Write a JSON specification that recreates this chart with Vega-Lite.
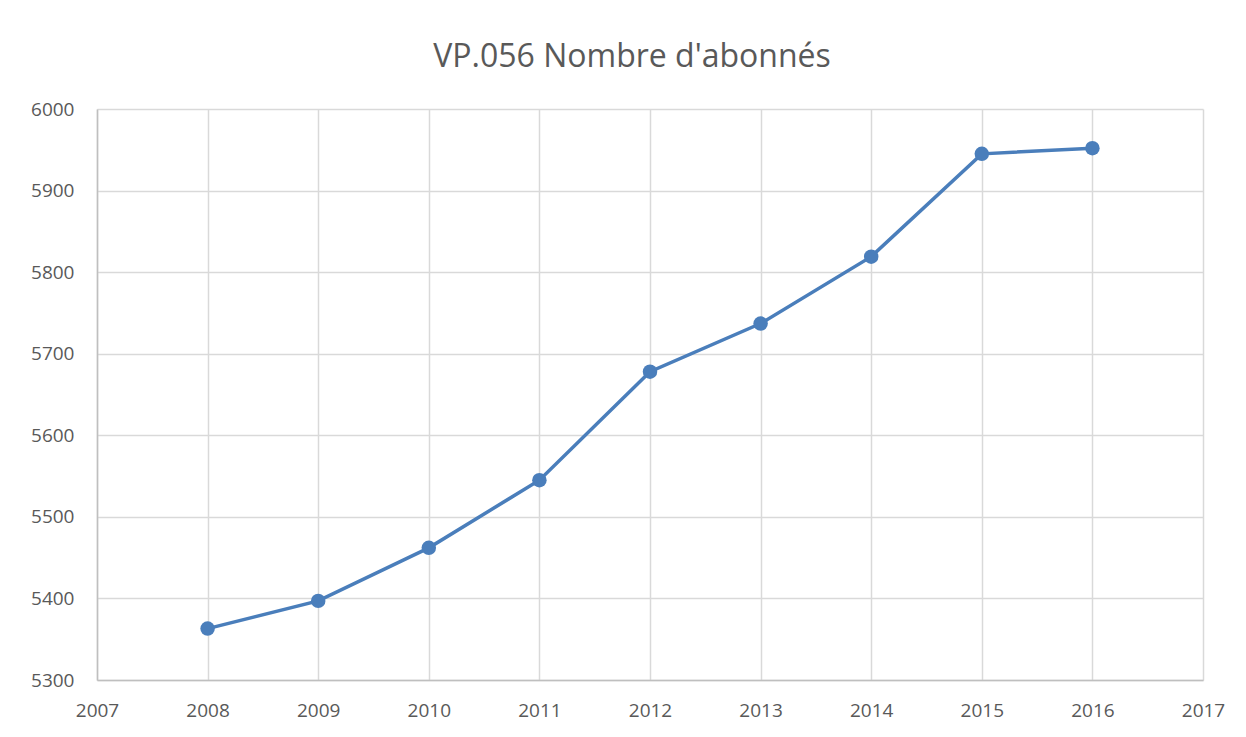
{
  "$schema": "https://vega.github.io/schema/vega-lite/v6.json",
  "width": 1106,
  "height": 571,
  "autosize": {"type": "none"},
  "padding": {"left": 97, "top": 109, "right": 43, "bottom": 57},
  "background": "white",
  "title": {
    "text": "VP.056 Nombre d'abonnés",
    "font": "Open Sans",
    "fontSize": 32,
    "fontWeight": "normal",
    "color": "#595959",
    "anchor": "middle",
    "offset": 26,
    "dx": -18
  },
  "config": {
    "view": {"stroke": null},
    "axis": {
      "labelFont": "Open Sans",
      "labelFontSize": 19,
      "labelColor": "#595959",
      "gridColor": "#d9d9d9",
      "gridWidth": 1.5,
      "domainColor": "#bfbfbf",
      "domainWidth": 1.5,
      "ticks": false,
      "title": null
    }
  },
  "data": {
    "values": [
      {"year": 2008, "value": 5363},
      {"year": 2009, "value": 5397},
      {"year": 2010, "value": 5462},
      {"year": 2011, "value": 5545},
      {"year": 2012, "value": 5678},
      {"year": 2013, "value": 5737},
      {"year": 2014, "value": 5819},
      {"year": 2015, "value": 5945},
      {"year": 2016, "value": 5952}
    ]
  },
  "encoding": {
    "x": {
      "field": "year",
      "type": "quantitative",
      "scale": {"domain": [2007, 2017], "nice": false, "zero": false},
      "axis": {
        "values": [2007, 2008, 2009, 2010, 2011, 2012, 2013, 2014, 2015, 2016, 2017],
        "format": "d",
        "labelPadding": 21,
        "labelFlush": false,
        "domain": true,
        "grid": true
      }
    },
    "y": {
      "field": "value",
      "type": "quantitative",
      "scale": {"domain": [5300, 6000], "nice": false, "zero": false},
      "axis": {
        "values": [5300, 5400, 5500, 5600, 5700, 5800, 5900, 6000],
        "format": "d",
        "labelPadding": 23,
        "domain": true,
        "grid": true
      }
    }
  },
  "layer": [
    {
      "mark": {"type": "line", "color": "#4a7ebb", "strokeWidth": 3.5}
    },
    {
      "mark": {"type": "point", "filled": true, "color": "#4a7ebb", "opacity": 1, "size": 210, "shape": "circle"}
    }
  ]
}
